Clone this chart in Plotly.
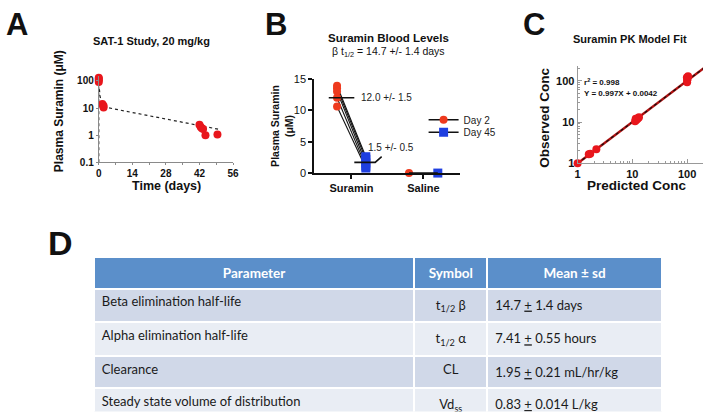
import plotly.graph_objects as go

W, H = 709, 418
def px(x): return x / W
def py(y): return 1 - y / H

FONT = "Liberation Sans, Arial, sans-serif"

# ---------------- Panel A data ----------------
a_time = [0, 0, 0, 0, 1.5, 2, 2, 42, 42.5, 43, 43.5, 44.5, 49.5]
a_conc = [90, 105, 120, 130, 14, 12, 10.5, 2.4, 2.0, 1.8, 1.7, 1.0, 1.05]
a_fit_time = [0, 0, 0.3, 0.6, 1, 2, 50]
a_fit_conc = [0.1, 100, 45, 25, 16, 11, 1.65]
a_xticks = [0, 14, 28, 42, 56]
a_yticks = [0.1, 1, 10, 100]
a_ytick_labels = ["0.1", "1", "10", "100"]

# ---------------- Panel B data ----------------
b_categories = ["Suramin", "Saline"]
b_day2_suramin = [13.9, 13.5, 13.0, 12.0, 10.6]
b_day45_suramin = [2.6, 2.2, 1.6, 1.1, 0.8]
b_day2_saline = [0.0]
b_day45_saline = [0.0]
b_mean_day2 = 12.0
b_mean_day45 = 1.7
b_mean_labels = ["12.0 +/- 1.5", "1.5 +/- 0.5"]
b_yticks = [0, 5, 10, 15]
b_series = ["Day 2", "Day 45"]

# ---------------- Panel C data ----------------
c_pred = [1.0, 1.6, 1.7, 2.2, 11.2, 11.8, 12.3, 12.8, 13.2, 11.5, 100, 100, 102, 99, 104]
c_obs = [1.0, 1.65, 1.7, 2.2, 10.5, 11.2, 11.8, 12.5, 13.0, 12.0, 92, 100, 110, 120, 128]
c_fit_x = [1, 250]
c_fit_y = [1.0, 249.3]
c_ticks = [1, 10, 100]
c_r2 = "0.998"
c_eq = "Y = 0.997X + 0.0042"

# ---------------- Panel D data ----------------
d_header = ["Parameter", "Symbol", "Mean ± sd"]
d_params = ["Beta elimination half-life", "Alpha elimination half-life",
            "Clearance", "Steady state volume of distribution"]
d_symbols = ["t<sub>1/2</sub> β", "t<sub>1/2</sub> α", "CL", "Vd<sub>ss</sub>"]
d_values = ["14.7 <u>+</u> 1.4 days", "7.41 <u>+</u> 0.55 hours",
            "1.95 <u>+</u> 0.21 mL/hr/kg", "0.83 <u>+</u> 0.014 L/kg"]

RED = "#e8161c"
BRED = "#ee3a1e"
BLUE = "#1f3fe0"

fig = go.Figure()

# ---- Panel A ----
fig.add_trace(go.Scatter(x=a_fit_time, y=a_fit_conc, mode="lines",
                         line=dict(color="#222", width=1.2, dash="dot"),
                         xaxis="x", yaxis="y", showlegend=False, cliponaxis=False))
fig.add_trace(go.Scatter(x=a_time, y=a_conc, mode="markers",
                         marker=dict(color=RED, size=8),
                         xaxis="x", yaxis="y", showlegend=False, cliponaxis=False))

# ---- Panel B ----
OFF = 0.2
pos = {c: i + 1 for i, c in enumerate(b_categories)}
d2s = sorted(b_day2_suramin, reverse=True)
d45s = sorted(b_day45_suramin, reverse=True)
for y0, y1 in zip(d2s, d45s):
    fig.add_trace(go.Scatter(x=[pos["Suramin"] - OFF, pos["Suramin"] + OFF], y=[y0, y1],
                             mode="lines", line=dict(color="#111", width=1.1),
                             xaxis="x2", yaxis="y2", showlegend=False, cliponaxis=False))

def gapped(xs, ys):
    gx, gy = [], []
    for a, b in zip(xs, ys):
        gx += [a, None]
        gy += [b, None]
    return gx, gy

x2 = [pos["Suramin"] - OFF] * len(b_day2_suramin) + [pos["Saline"] - OFF] * len(b_day2_saline)
y2 = b_day2_suramin + b_day2_saline
x45 = [pos["Suramin"] + OFF] * len(b_day45_suramin) + [pos["Saline"] + OFF] * len(b_day45_saline)
y45 = b_day45_suramin + b_day45_saline
gx, gy = gapped(x2, y2)
fig.add_trace(go.Scatter(x=gx, y=gy, mode="lines+markers", name=b_series[0],
                         connectgaps=False, legend="legend",
                         line=dict(color="#111", width=1.5),
                         marker=dict(color=BRED, size=8, symbol="circle"),
                         xaxis="x2", yaxis="y2", cliponaxis=False))
gx, gy = gapped(x45, y45)
fig.add_trace(go.Scatter(x=gx, y=gy, mode="lines+markers", name=b_series[1],
                         connectgaps=False, legend="legend2",
                         line=dict(color="#111", width=1.5),
                         marker=dict(color=BLUE, size=9, symbol="square"),
                         xaxis="x2", yaxis="y2", cliponaxis=False))
# mean bars
fig.add_trace(go.Scatter(x=[pos["Suramin"] - 0.315, pos["Suramin"] + 0.04], y=[b_mean_day2, b_mean_day2],
                         mode="lines", line=dict(color="#111", width=1.6),
                         xaxis="x2", yaxis="y2", showlegend=False, cliponaxis=False))
fig.add_trace(go.Scatter(x=[pos["Suramin"] + 0.04, pos["Suramin"] + 0.33, pos["Suramin"] + 0.42],
                         y=[b_mean_day45, b_mean_day45, b_mean_day45 + 0.9],
                         mode="lines", line=dict(color="#111", width=1.6),
                         xaxis="x2", yaxis="y2", showlegend=False, cliponaxis=False))
fig.add_trace(go.Scatter(x=[pos["Saline"] - OFF, pos["Saline"] + OFF], y=[0, 0],
                         mode="lines", line=dict(color="#111", width=1.6),
                         xaxis="x2", yaxis="y2", showlegend=False, cliponaxis=False))

# ---- Panel C ----
fig.add_trace(go.Scatter(x=c_fit_x, y=c_fit_y, mode="lines",
                         line=dict(color="#b01010", width=2.4),
                         xaxis="x3", yaxis="y3", showlegend=False))
fig.add_trace(go.Scatter(x=c_fit_x, y=c_fit_y, mode="lines",
                         line=dict(color="#111", width=1.2, dash="dot"),
                         xaxis="x3", yaxis="y3", showlegend=False))
fig.add_trace(go.Scatter(x=c_pred, y=c_obs, mode="markers",
                         marker=dict(color=RED, size=8),
                         xaxis="x3", yaxis="y3", showlegend=False, cliponaxis=False))

# ---- Panel D table ----
row_colors = ["#d0d8e8", "#e9edf4", "#d0d8e8", "#e9edf4"]
fig.add_trace(go.Table(
    domain=dict(x=[px(92), px(668)], y=[0, py(258)]),
    columnwidth=[325, 74, 177],
    header=dict(values=["<b>%s</b>" % h for h in d_header],
                fill_color="#5b8fca", line=dict(color="white", width=2),
                font=dict(color="white", size=13.5, family="Lato"),
                align="center", height=30),
    cells=dict(values=[d_params, d_symbols, d_values],
               fill_color=[row_colors] * 3, line=dict(color="white", width=2),
               font=dict(color="#1a1a1a", size=13, family="Lato"),
               align=["left", "center", "left"], height=32)))

axA = dict(showline=True, linecolor="#8a8a8a", linewidth=1, ticks="outside",
           tickcolor="#8a8a8a", ticklen=2, showgrid=False, zeroline=False,
           tickfont=dict(family=FONT, size=10, color="#111"))
legend_common = dict(xanchor="left", yanchor="middle",
                     font=dict(family=FONT, size=10, color="#222"), itemwidth=30,
                     bgcolor="rgba(0,0,0,0)", tracegroupgap=0,
                     borderwidth=0)
fig.update_layout(
    width=W, height=H, margin=dict(l=0, r=0, t=0, b=0),
    paper_bgcolor="white", plot_bgcolor="rgba(0,0,0,0)",
    font=dict(family=FONT, color="#111"),
    xaxis=dict(axA, domain=[px(97), px(233)], range=[0, 56], anchor="y",
               tickvals=a_xticks, ticktext=["<b>%d</b>" % t for t in a_xticks],
               minor=dict(dtick=7, ticks="outside", ticklen=2, tickcolor="#8a8a8a")),
    yaxis=dict(axA, domain=[py(161), py(72)], type="log", range=[-1, 2.18], anchor="x",
               tickvals=a_yticks, ticktext=["<b>%s</b>" % t for t in a_ytick_labels]),
    xaxis2=dict(domain=[px(315), px(463)], range=[0.48, 2.51], anchor="y2",
                showline=True, linecolor="#111", linewidth=1.5, ticks="outside",
                tickcolor="#111", ticklen=4, tickwidth=1.5, showgrid=False, zeroline=False,
                tickvals=[pos[c] for c in b_categories],
                ticktext=["<b>%s</b>" % c for c in b_categories],
                tickfont=dict(family=FONT, size=11, color="#111")),
    yaxis2=dict(domain=[py(172), py(75)], range=[0, 15], anchor="x2",
                showline=True, linecolor="#111", linewidth=1.5, ticks="outside",
                tickcolor="#111", ticklen=4, tickwidth=1.5, showgrid=False, zeroline=False,
                tickvals=b_yticks, tickfont=dict(family=FONT, size=11, color="#111")),
    xaxis3=dict(domain=[px(582), 1.0], type="log", range=[0, 2.29], anchor="y3",
                showline=True, linecolor="#999", linewidth=1, ticks="inside",
                tickcolor="#999", ticklen=4, showgrid=False, zeroline=False,
                tickvals=c_ticks, ticktext=["<b>%d</b>" % t for t in c_ticks],
                tickfont=dict(family=FONT, size=11, color="#111"),
                minor=dict(ticks="inside", ticklen=2, tickcolor="#999",
                           tickvals=[2, 3, 4, 5, 6, 7, 8, 9, 20, 30, 40, 50, 60, 70, 80, 90, 200])),
    yaxis3=dict(domain=[py(162), py(62)], type="log", range=[0, 2.35], anchor="x3",
                showline=True, linecolor="#999", linewidth=1, ticks="inside",
                tickcolor="#999", ticklen=4, showgrid=False, zeroline=False,
                tickvals=c_ticks, ticktext=["<b>%d</b>" % t for t in c_ticks],
                tickfont=dict(family=FONT, size=11, color="#111"),
                minor=dict(ticks="inside", ticklen=2, tickcolor="#999",
                           tickvals=[2, 3, 4, 5, 6, 7, 8, 9, 20, 30, 40, 50, 60, 70, 80, 90, 200])),
    legend=dict(legend_common, x=px(426), y=py(117)),
    legend2=dict(legend_common, x=px(426), y=py(130)),
)

ann = []
def A(x, y, text, size, bold=False, **kw):
    d = dict(x=px(x), y=py(y), xref="paper", yref="paper", showarrow=False,
             text=("<b>%s</b>" % text) if bold else text,
             font=dict(family=FONT, size=size, color=kw.pop("color", "#111")),
             xanchor=kw.pop("xanchor", "center"), yanchor=kw.pop("yanchor", "middle"))
    d.update(kw)
    ann.append(d)

# panel letters
A(14, 19, "A", 31, True)
A(277, 19, "B", 31, True)
A(538, 19, "C", 31, True)
A(58, 244, "D", 34, True)
# panel A labels
A(150, 36, "SAT-1 Study, 20 mg/kg", 11, True)
A(57, 108, "Plasma Suramin (μM)", 12, True, textangle=-90)
A(166, 185, "Time (days)", 12.5, True)
# panel B labels
A(390, 33, "Suramin Blood Levels", 11.5, True)
A(390, 47, "β t<sub>1/2</sub> = 14.7 +/- 1.4 days", 10.5)
A(283, 123, "Plasma Suramin<br>(μM)", 10.5, True, textangle=-90)
ann.append(dict(x=pos["Suramin"] + 0.1, y=b_mean_day2, xref="x2", yref="y2", showarrow=False,
                text=b_mean_labels[0], xanchor="left", yanchor="middle",
                font=dict(family=FONT, size=10, color="#222")))
ann.append(dict(x=pos["Suramin"] + 0.2, y=b_mean_day45 + 1.2, xref="x2", yref="y2", showarrow=False,
                text=b_mean_labels[1], xanchor="left", yanchor="bottom",
                font=dict(family=FONT, size=10, color="#222")))
# panel C labels
A(635, 34, "Suramin PK Model Fit", 11, True)
A(549, 115, "Observed Conc", 13.5, True, textangle=-90)
A(642, 185, "Predicted Conc", 13.5, True)
A(586, 78, "r<sup>2</sup> = " + c_r2, 8, True, xanchor="left")
A(586, 90, c_eq, 8, True, xanchor="left")

fig.update_layout(annotations=ann)
fig.write_html("out.html", config={"displayModeBar": False},
               post_script="document.body.style.margin='0px';document.body.style.overflow='hidden';")
